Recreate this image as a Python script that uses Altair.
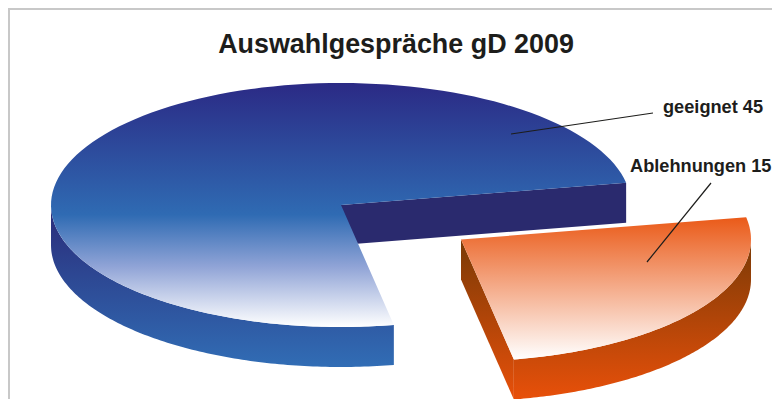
import numpy as np
import altair as alt

# ---- values
categories = ["geeignet", "Ablehnungen"]
values = [45, 15]
title_text = "Auswahlgespräche gD 2009"

# ---- page offset of the vega canvas
M = 8
CX, CY = 341 - M, 205 - M      # pie centre on canvas
RX, RY = 290, 122              # ellipse radii
DEPTH = 40
START_DEG = 10.5               # orange slice starts here
EXPLODE = (120, 34.5)


def ell(t, ox=0, oy=0, dz=0):
    return [CX + ox + RX * np.cos(t), CY + oy + dz - RY * np.sin(t)]


def arc(a0, a1, ox=0, oy=0, dz=0, n=120):
    return [ell(t, ox, oy, dz) for t in np.linspace(a0, a1, n)]


def poly(pts):
    pts = [[float(x), float(y)] for x, y in pts]
    pts = pts + [pts[0]]
    return {"type": "Feature", "properties": {},
            "geometry": {"type": "Polygon", "coordinates": [pts]}}


def line(pts):
    return {"type": "Feature", "properties": {},
            "geometry": {"type": "LineString",
                         "coordinates": [[float(a), float(b)] for a, b in pts]}}


total = sum(values)
sweep_orange = 2 * np.pi * values[1] / total
a_start = np.radians(START_DEG)
a_end = a_start - sweep_orange            # orange spans a_end .. a_start
blue_a0 = a_start
blue_a1 = a_end + 2 * np.pi
ox, oy = EXPLODE

centre = [CX, CY]
o_centre = [CX + ox, CY + oy]

# ---- blue slice
blue_top = poly([centre] + arc(blue_a0, blue_a1))
blue_wall = poly(arc(np.pi, blue_a1) + arc(blue_a1, np.pi, dz=DEPTH))
blue_cut = poly([centre, ell(blue_a0), ell(blue_a0, dz=DEPTH), [CX, CY + DEPTH]])

# ---- orange slice
orange_top = poly([o_centre] + arc(a_end, a_start, ox, oy))
orange_wall = poly(arc(a_end, 0, ox, oy) + arc(0, a_end, ox, oy, DEPTH))
orange_cut = poly([o_centre, ell(a_end, ox, oy), ell(a_end, ox, oy, DEPTH),
                   [o_centre[0], o_centre[1] + DEPTH]])


def grad(stops):
    return alt.LinearGradient(
        gradient="linear", x1=0, y1=0, x2=0, y2=1,
        stops=[alt.GradientStop(offset=o, color=c) for o, c in stops])


PROJ = dict(type="identity", scale=1, translate=[0, 0])


def shape(feature, fill):
    return alt.Chart(alt.Data(values=[feature], format=alt.DataFormat(type="json"))).mark_geoshape(
        fill=fill, strokeWidth=0).project(**PROJ)


def stroke_line(pts, color, width):
    return alt.Chart(alt.Data(values=[line(pts)], format=alt.DataFormat(type="json"))).mark_geoshape(
        filled=False, stroke=color, strokeWidth=width).project(**PROJ)


blue_wall_c = shape(blue_wall, grad([(0, "#2a2a78"), (1, "#316db5")]))
blue_cut_c = shape(blue_cut, "#2a2a6e")
blue_top_c = shape(blue_top, grad([(0, "#2b2a85"), (0.54, "#2f6bb3"), (0.75, "#8fa3d6"), (1, "#ffffff")]))
orange_wall_c = shape(orange_wall, grad([(0, "#7a3a06"), (1, "#e8500a")]))
orange_cut_c = shape(orange_cut, grad([(0, "#7a3a06"), (1, "#e8500a")]))
orange_top_c = shape(orange_top, grad([(0, "#ea5a18"), (1, "#ffffff")]))

frame = stroke_line([[1, 391], [1, 1], [764, 1]], "#c8c8c8", 2)

leaders = [
    stroke_line([[511 - M, 134 - M], [653 - M, 113 - M]], "#1d1d1b", 1.2),
    stroke_line([[647 - M, 262 - M], [711 - M, 183 - M]], "#1d1d1b", 1.2),
]

labels = alt.Chart(alt.Data(values=[
    {"lon": 663 - M, "lat": 113 - M, "t": f"{categories[0]} {values[0]}"},
    {"lon": 630 - M, "lat": 171.7 - M, "t": f"{categories[1]} {values[1]}"},
])).mark_text(font="Liberation Sans", fontWeight="bold", fontSize=18.2, align="left",
              baseline="alphabetic", color="#1d1d1b").encode(
    longitude="lon:Q", latitude="lat:Q", text="t:N").project(**PROJ)

title = alt.Chart(alt.Data(values=[{"lon": 396 - M, "lat": 53 - M, "t": title_text}])).mark_text(
    font="Liberation Sans", fontWeight="bold", fontSize=26.9, align="center",
    baseline="alphabetic", color="#1d1d1b").encode(
    longitude="lon:Q", latitude="lat:Q", text="t:N").project(**PROJ)

chart = alt.layer(
    frame, blue_cut_c, blue_wall_c, blue_top_c,
    orange_cut_c, orange_wall_c, orange_top_c,
    *leaders, labels, title,
).properties(width=764, height=391, padding=0, autosize=alt.AutoSizeParams(type="none")
).configure_view(stroke=None).configure(background="#ffffff")

chart.save("out.html", embed_options={"renderer": "svg", "actions": False})
